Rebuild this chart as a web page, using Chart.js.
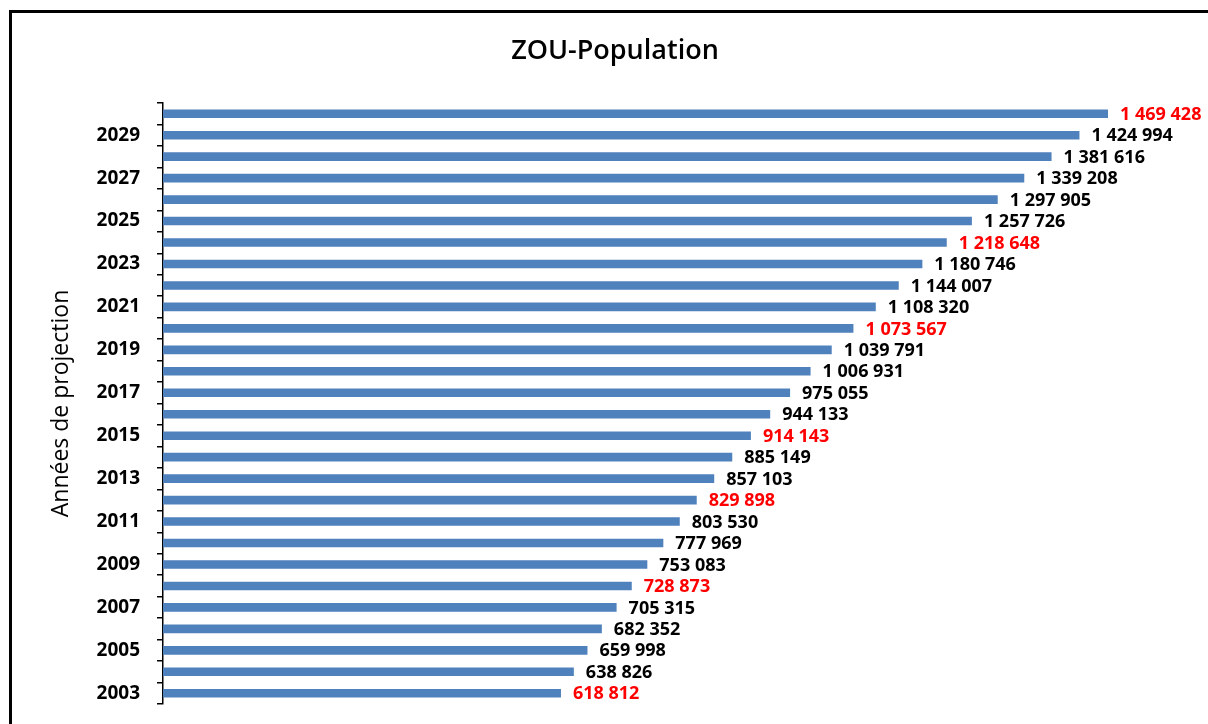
<!DOCTYPE html>
<html>
<head>
<meta charset="utf-8">
<script src="https://cdn.jsdelivr.net/npm/chart.js@4/dist/chart.umd.min.js"></script>
<style>
  html, body { margin: 0; padding: 0; background: #fff; overflow: hidden; }
  #frame {
    position: absolute; left: 9px; top: 10px; width: 1300px; height: 800px;
    border-left: 3px solid #000; border-top: 3px solid #000;
  }
  #wrap { position: absolute; left: 0; top: 0; width: 1208px; height: 724px; }
</style>
</head>
<body>
<div id="frame"></div>
<div id="wrap"><canvas id="chart"></canvas></div>
<script>
// années de projection (bas -> haut)
const years = [2003, 2004, 2005, 2006, 2007, 2008, 2009, 2010, 2011, 2012, 2013, 2014, 2015, 2016,
               2017, 2018, 2019, 2020, 2021, 2022, 2023, 2024, 2025, 2026, 2027, 2028, 2029, 2030];
const population = [618812, 638826, 659998, 682352, 705315, 728873, 753083, 777969, 803530, 829898,
                    857103, 885149, 914143, 944133, 975055, 1006931, 1039791, 1073567, 1108320, 1144007,
                    1180746, 1218648, 1257726, 1297905, 1339208, 1381616, 1424994, 1469428];
// valeurs affichées en rouge
const redYears = [2003, 2008, 2012, 2015, 2020, 2024, 2030];

const FONT = "'Open Sans', sans-serif";

function fmt(n) {
    return String(n).replace(/\B(?=(\d{3})+(?!\d))/g, ' ');
}

// titre + étiquettes de valeur à droite des barres
const valueLabels = {
    id: 'valueLabels',
    afterDatasetsDraw(chart) {
        const ctx = chart.ctx;
        const meta = chart.getDatasetMeta(0);
        ctx.save();
        ctx.font = '600 27px ' + FONT;
        ctx.fillStyle = '#000';
        ctx.textAlign = 'center';
        ctx.textBaseline = 'middle';
        ctx.fillText('ZOU-Population', 615, 51);

        ctx.font = 'bold 18px ' + FONT;
        ctx.textAlign = 'left';
        meta.data.forEach((bar, i) => {
            ctx.fillStyle = redYears.includes(years[i]) ? '#ff0000' : '#000';
            ctx.fillText(fmt(population[i]), bar.x + 12, bar.y + 1);
        });
        ctx.restore();
    }
};

new Chart(document.getElementById('chart'), {
    type: 'bar',
    data: {
        labels: years.map(String),
        datasets: [{
            data: population,
            backgroundColor: '#4f81bd',
            barPercentage: 0.4,
            categoryPercentage: 1.0,
        }]
    },
    options: {
        indexAxis: 'y',
        responsive: true,
        maintainAspectRatio: false,
        animation: false,
        layout: { padding: { left: 0, right: 16, top: 103, bottom: 20 } },
        scales: {
            x: { display: false, min: 0, max: 1600000 },
            y: {
                reverse: true,
                offset: true,
                afterFit: (scale) => {
                    scale.width = 163;
                    scale.paddingTop = 0;
                    scale.paddingBottom = 0;
                },
                grid: {
                    offset: true,
                    drawOnChartArea: false,
                    color: '#000',
                    lineWidth: 1.5,
                    tickLength: 6,
                },
                border: { color: '#000', width: 1.5 },
                ticks: {
                    autoSkip: false,
                    padding: 17,
                    color: '#000',
                    font: { family: FONT, size: 19, weight: 'bold' },
                    callback: function (value, index) {
                        return index % 2 === 0 ? this.getLabelForValue(value) : '';
                    }
                },
                title: {
                    display: true,
                    text: 'Années de projection',
                    color: '#000',
                    font: { family: FONT, size: 23 },
                    padding: { top: 48, bottom: 0 }
                }
            }
        },
        plugins: {
            legend: { display: false },
            tooltip: { enabled: false },
            title: { display: false }
        }
    },
    plugins: [valueLabels]
});
</script>
</body>
</html>
